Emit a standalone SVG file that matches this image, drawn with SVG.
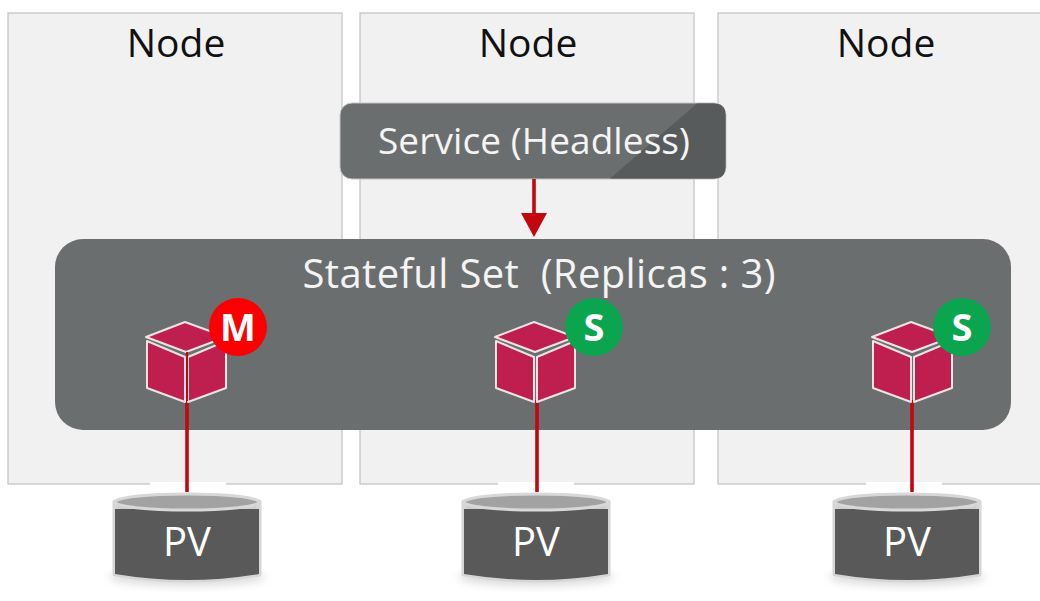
<svg xmlns="http://www.w3.org/2000/svg" xmlns:xlink="http://www.w3.org/1999/xlink" width="1040" height="601" viewBox="0 0 1040 601">
<style>
text{font-family:"Open Sans","Noto Sans","Liberation Sans",sans-serif;text-anchor:middle}
.nb{fill:#f1f1f1;stroke:#c2c2c2;stroke-width:1.2}
.nt{font-size:39px;fill:#111}
.lt{font-size:37px;fill:#f4f4f4}
.lt2{font-size:40px;fill:#f4f4f4}
.pvt{font-size:40px;fill:#fff}
.bt{font-size:38px;font-weight:700;fill:#fff}
.cf{fill:#bf1f4f;stroke:#efe3e6;stroke-width:2;stroke-linejoin:round}
.conn{stroke:#c4060f;stroke-width:3.6;fill:none}
.halo{fill:#cfcfcf;stroke:#d6d6d6;stroke-width:5;stroke-linejoin:round}
.cyl{fill:#595959}
.lid{fill:#a2a2a2;stroke:#d8d8d8;stroke-width:3}
</style>
<defs>
<g id="cube">
<path class="cf" d="M-39 -11V36L-1 50V5Z"/>
<path class="cf" d="M2 5V50L40 36V-11Z"/>
<path class="cf" d="M-40 -15L-1 -30L40 -15L0 0Z"/>
</g>
<g id="cylinder">
<path class="halo" d="M-72 -39V33Q0 45 72 33V-39Z"/>
<path class="cyl" d="M-72 -32V33Q0 45 72 33V-32Z"/>
<ellipse class="lid" cx="0" cy="-39" rx="72" ry="8"/>
</g>
<filter id="sh" x="-20%" y="-20%" width="140%" height="150%"><feGaussianBlur stdDeviation="4"/></filter>
</defs>
<rect width="1040" height="601" fill="#fff"/>
<g id="node-1"><rect class="nb" x="8" y="13" width="334" height="471"/><rect x="150" y="482" width="76" height="4" fill="#fff"/><text class="nt" x="176" y="57">Node</text></g>
<g id="node-2"><rect class="nb" x="360" y="13" width="334" height="471"/><rect x="498" y="482" width="76" height="4" fill="#fff"/><text class="nt" x="528" y="57">Node</text></g>
<g id="node-3"><rect class="nb" x="718" y="13" width="330" height="471"/><rect x="866" y="482" width="76" height="4" fill="#fff"/><text class="nt" x="886" y="57">Node</text></g>
<g id="service">
<rect x="340" y="103" width="386" height="76" rx="12" fill="#6b6e6e" stroke="#c4c4c4" stroke-width="1"/>
<path d="M697 103.500H714Q725.500 103.500 725.500 115V167Q725.500 178.500 714 178.500H610Z" fill="#585b5b"/>
<text class="lt" x="534" y="154" textLength="312" lengthAdjust="spacing">Service (Headless)</text>
</g>
<g id="stateful-set">
<rect x="55" y="239" width="956" height="191" rx="28" fill="#6b6e6e"/>
<text class="lt2" x="539" y="288" xml:space="preserve" textLength="473" lengthAdjust="spacing">Stateful Set  (Replicas : 3)</text>
</g>
<g id="connectors">
<line class="conn" x1="534" y1="179" x2="534" y2="215"/>
<path d="M521 213H547L534 237Z" fill="#c4060f"/>
<line class="conn" x1="187" y1="400" x2="187" y2="492"/>
<line class="conn" x1="537" y1="400" x2="537" y2="492"/>
<line class="conn" x1="912" y1="400" x2="912" y2="492"/>
</g>
<g id="pod-1"><use xlink:href="#cube" href="#cube" x="186" y="352"/><line x1="187" y1="352" x2="187" y2="401" stroke="#c4060f" stroke-width="2"/><circle cx="238" cy="327" r="29" fill="#fb0000"/><text class="bt" x="238" y="341">M</text></g>
<g id="pod-2"><use xlink:href="#cube" href="#cube" x="535" y="352"/><circle cx="594" cy="327" r="29" fill="#0ba44f"/><text class="bt" x="594" y="341">S</text></g>
<g id="pod-3"><use xlink:href="#cube" href="#cube" x="912" y="352"/><circle cx="962" cy="327" r="29" fill="#0ba44f"/><text class="bt" x="962" y="341">S</text></g>
<g id="pv-1"><ellipse cx="187" cy="577" rx="78" ry="9" fill="#999" opacity=".35" filter="url(#sh)"/><use xlink:href="#cylinder" href="#cylinder" x="187" y="541"/><text class="pvt" x="187" y="556">PV</text></g>
<g id="pv-2"><ellipse cx="536" cy="577" rx="78" ry="9" fill="#999" opacity=".35" filter="url(#sh)"/><use xlink:href="#cylinder" href="#cylinder" x="536" y="541"/><text class="pvt" x="536" y="556">PV</text></g>
<g id="pv-3"><ellipse cx="907" cy="577" rx="78" ry="9" fill="#999" opacity=".35" filter="url(#sh)"/><use xlink:href="#cylinder" href="#cylinder" x="907" y="541"/><text class="pvt" x="907" y="556">PV</text></g>
</svg>
